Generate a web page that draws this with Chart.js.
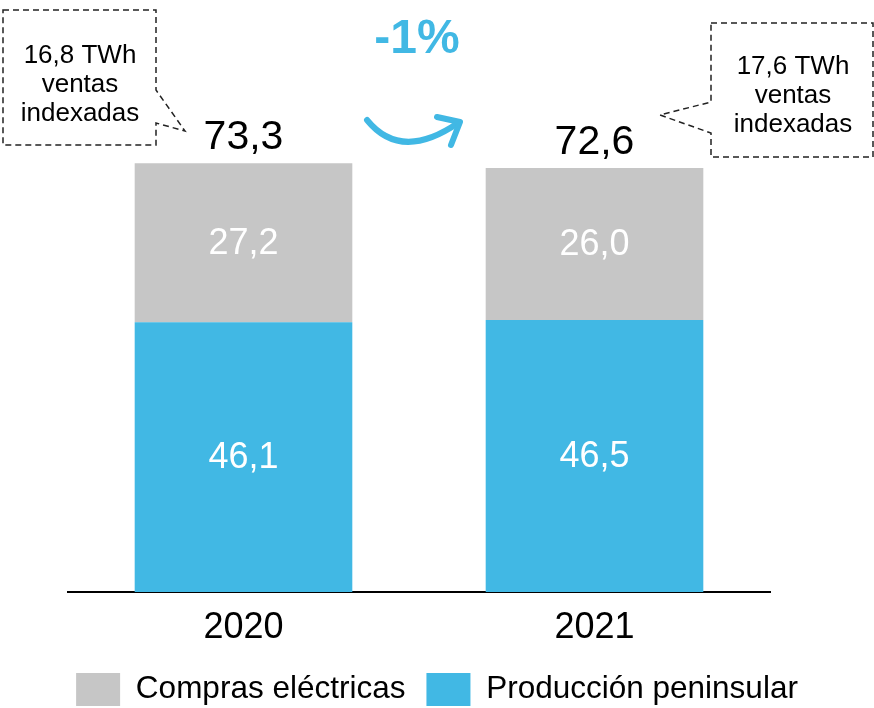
<!DOCTYPE html>
<html>
<head>
<meta charset="utf-8">
<script src="https://cdn.jsdelivr.net/npm/chart.js"></script>
<style>
  html, body { margin: 0; padding: 0; background: #fff; }
  #wrap { width: 874px; height: 708px; }
</style>
</head>
<body>
<div id="wrap"><canvas id="c" width="874" height="708"></canvas></div>
<script>
const years = ['2020', '2021'];
const produccion = [46.1, 46.5];
const compras = [27.2, 26.0];
const totales = [73.3, 72.6];
const notas = [['16,8 TWh', 'ventas', 'indexadas'], ['17,6 TWh', 'ventas', 'indexadas']];
const variacion = '-1%';

const AZUL = '#41b8e4';
const GRIS = '#c6c6c6';
const FONT = '"Liberation Sans", Arial, sans-serif';

function fmt(v) { return v.toFixed(1).replace('.', ','); }

const extras = {
    id: 'extras',
    afterDatasetsDraw(chart) {
        const ctx = chart.ctx;
        ctx.save();
        ctx.textAlign = 'center';
        ctx.textBaseline = 'middle';
        // values inside bars
        chart.data.datasets.forEach((ds, i) => {
            chart.getDatasetMeta(i).data.forEach((bar, j) => {
                const p = bar.getProps(['x', 'y', 'base'], true);
                ctx.fillStyle = '#fff';
                ctx.font = '36px ' + FONT;
                ctx.fillText(fmt(ds.data[j]), p.x, (p.y + p.base) / 2 + 1);
            });
        });
        // totals
        const top = chart.getDatasetMeta(1).data;
        ctx.textBaseline = 'alphabetic';
        ctx.fillStyle = '#000';
        ctx.font = '41px ' + FONT;
        top.forEach((bar, j) => {
            ctx.fillText(fmt(totales[j]), bar.x, bar.y - 14);
        });

        // callouts
        ctx.strokeStyle = '#222';
        ctx.lineWidth = 1.5;
        ctx.setLineDash([6, 4]);
        ctx.beginPath();
        ctx.moveTo(3, 10); ctx.lineTo(156, 10); ctx.lineTo(156, 90);
        ctx.lineTo(185, 131); ctx.lineTo(156, 123); ctx.lineTo(156, 145);
        ctx.lineTo(3, 145); ctx.closePath();
        ctx.stroke();
        ctx.beginPath();
        ctx.moveTo(711, 23); ctx.lineTo(873, 23); ctx.lineTo(873, 157);
        ctx.lineTo(711, 157); ctx.lineTo(711, 133); ctx.lineTo(660, 115);
        ctx.lineTo(711, 102); ctx.closePath();
        ctx.stroke();
        ctx.setLineDash([]);

        ctx.fillStyle = '#000';
        ctx.font = '26px ' + FONT;
        notas[0].forEach((t, k) => ctx.fillText(t, 80, 63 + k * 29));
        notas[1].forEach((t, k) => ctx.fillText(t, 793, 74 + k * 29));

        // arrow and variation
        ctx.strokeStyle = AZUL;
        ctx.lineWidth = 6;
        ctx.lineCap = 'round';
        ctx.lineJoin = 'round';
        ctx.beginPath();
        ctx.moveTo(367, 120);
        ctx.quadraticCurveTo(401, 162, 458, 123);
        ctx.stroke();
        ctx.beginPath();
        ctx.moveTo(437, 117); ctx.lineTo(460, 122); ctx.lineTo(451, 145);
        ctx.stroke();

        ctx.fillStyle = AZUL;
        ctx.font = 'bold 48px ' + FONT;
        ctx.fillText(variacion, 417, 53);
        ctx.restore();
    }
};

new Chart(document.getElementById('c'), {
    type: 'bar',
    data: {
        labels: years,
        datasets: [
            { label: 'Producción peninsular', data: produccion, backgroundColor: AZUL },
            { label: 'Compras eléctricas', data: compras, backgroundColor: GRIS }
        ]
    },
    options: {
        responsive: false,
        animation: false,
        events: [],
        layout: { padding: { top: 7, bottom: -8 } },
        datasets: { bar: { categoryPercentage: 1, barPercentage: 0.62 } },
        scales: {
            x: {
                stacked: true,
                grid: { display: false },
                border: { display: true, color: '#000', width: 2 },
                ticks: { color: '#000', font: { family: FONT, size: 36 }, padding: 6 },
                afterFit: s => { s.height = 60; }
            },
            y: {
                stacked: true,
                min: 0, max: 100,
                grid: { display: false },
                border: { display: false },
                ticks: { display: false },
                afterFit: s => { s.width = 68; }
            },
            y2: {
                position: 'right',
                min: 0, max: 100,
                grid: { display: false },
                border: { display: false },
                ticks: { display: false },
                afterFit: s => { s.width = 104; }
            }
        },
        plugins: {
            tooltip: { enabled: false },
            legend: {
                position: 'bottom',
                reverse: true,
                labels: {
                    color: '#000',
                    boxWidth: 44, boxHeight: 33,
                    padding: 21,
                    font: { family: FONT, size: 31.5 }
                }
            }
        }
    },
    plugins: [extras]
});
</script>
</body>
</html>
